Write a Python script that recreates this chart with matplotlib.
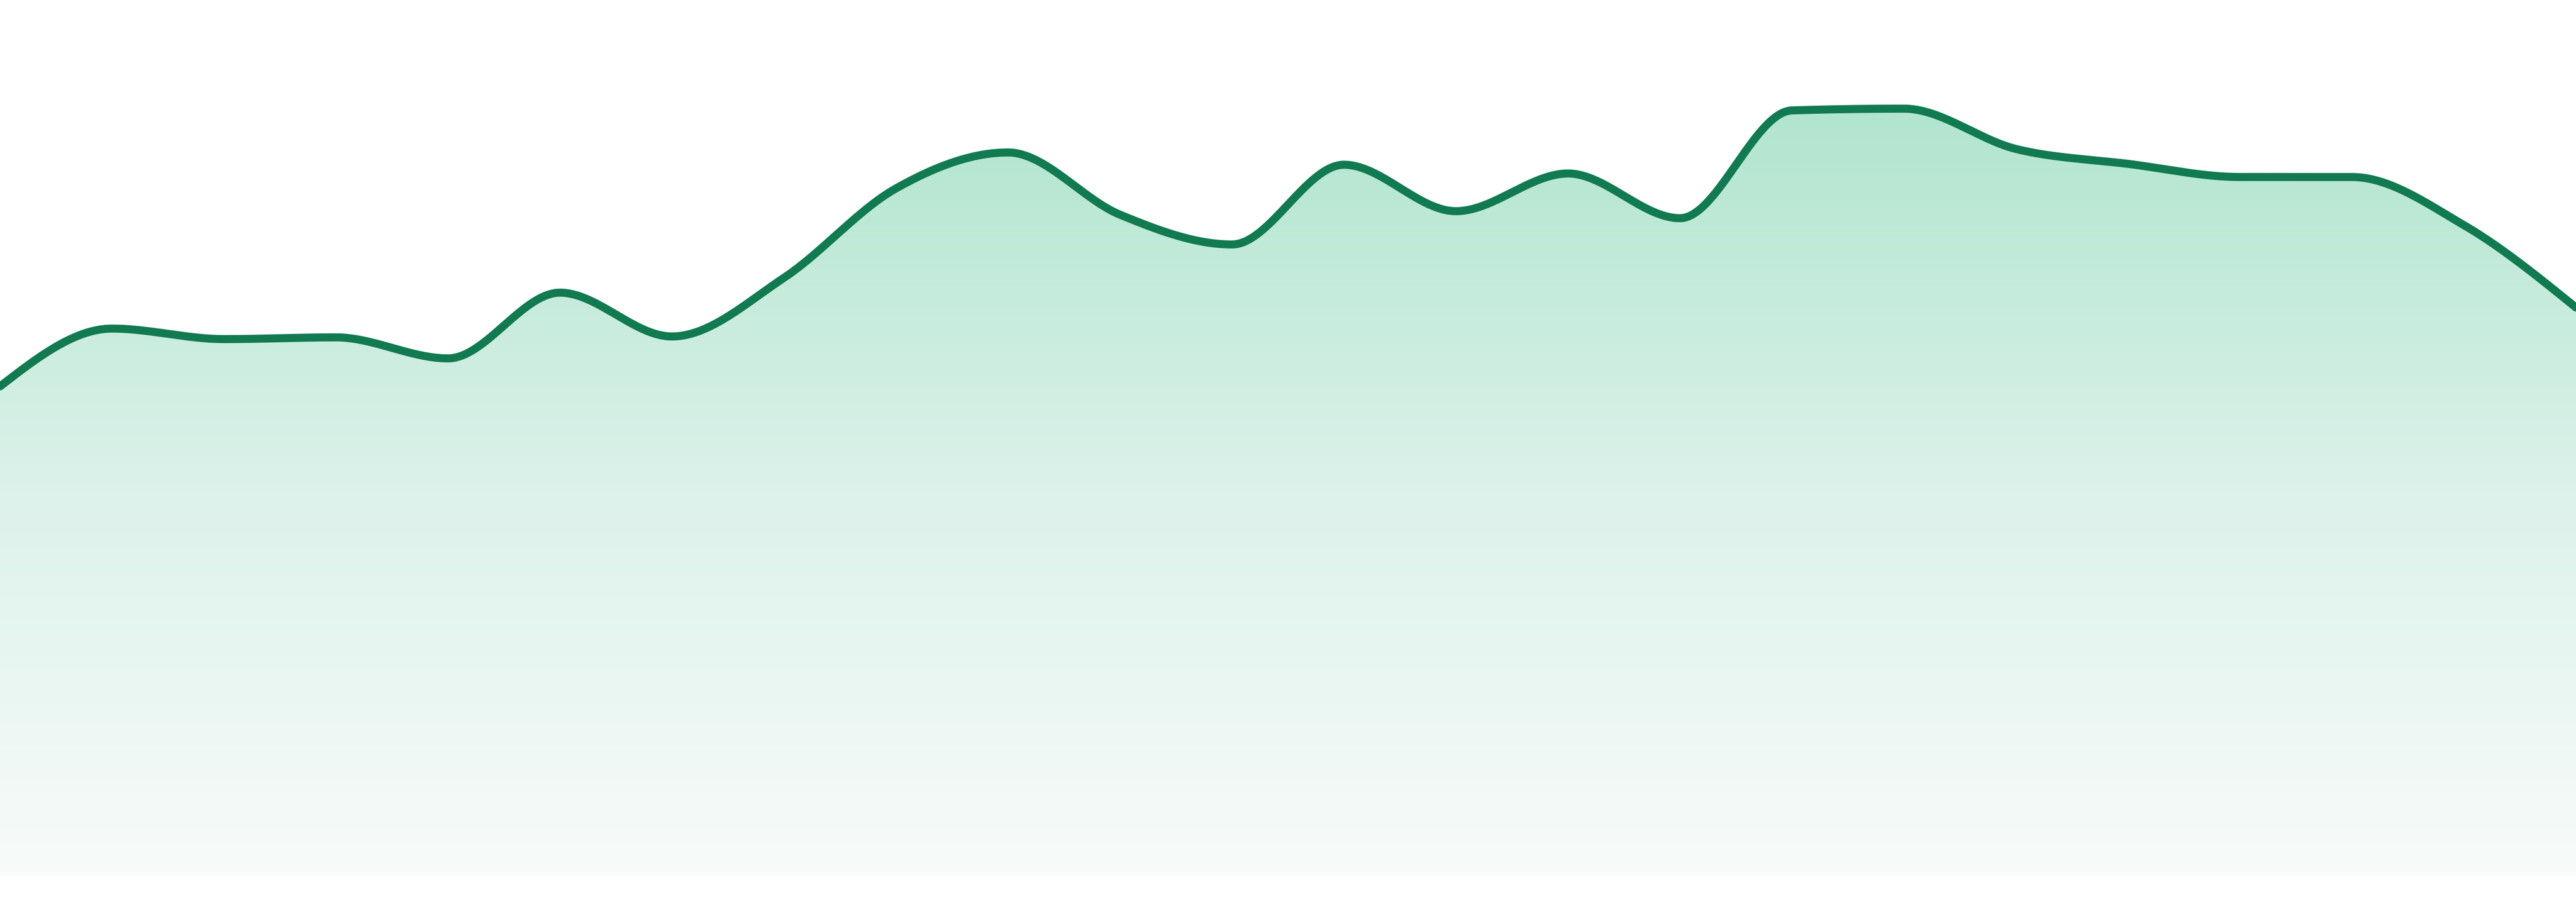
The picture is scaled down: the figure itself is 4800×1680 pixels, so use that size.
import matplotlib
matplotlib.use("Agg")
import matplotlib.pyplot as plt
import numpy as np
from matplotlib.colors import LinearSegmentedColormap

# values, one per point, evenly spaced
points = list(range(24))
values = [55.9, 62.5, 61.3, 61.5, 59.1, 66.6, 61.6, 68.3, 78.5, 82.6, 75.5, 72.1,
          81.2, 75.9, 80.2, 75.1, 87.4, 87.6, 83.0, 81.3, 79.8, 79.8, 74.3, 64.9]

line_color = "#117a50"
fill_stops = ["#f8fbfa", "#dcf2ea", "#b1e5cf"]


def monotone_x(x, y, n=60):
    # same idea as d3.curveMonotoneX
    x = np.asarray(x, float)
    y = np.asarray(y, float)
    h = np.diff(x)
    s = np.diff(y) / h
    t = np.zeros_like(y)
    for i in range(1, len(y) - 1):
        p = (s[i - 1] * h[i] + s[i] * h[i - 1]) / (h[i - 1] + h[i])
        t[i] = (np.sign(s[i - 1]) + np.sign(s[i])) * min(abs(s[i - 1]), abs(s[i]), 0.5 * abs(p))
    t[0] = (3 * s[0] - t[1]) / 2
    t[-1] = (3 * s[-1] - t[-2]) / 2
    xs, ys = [], []
    for i in range(len(h)):
        u = np.linspace(0, 1, n, endpoint=False)
        h00 = 2 * u**3 - 3 * u**2 + 1
        h10 = u**3 - 2 * u**2 + u
        h01 = -2 * u**3 + 3 * u**2
        h11 = u**3 - u**2
        xs.append(x[i] + u * h[i])
        ys.append(h00 * y[i] + h10 * h[i] * t[i] + h01 * y[i + 1] + h11 * h[i] * t[i + 1])
    xs.append([x[-1]])
    ys.append([y[-1]])
    return np.concatenate(xs), np.concatenate(ys)


xs, ys = monotone_x(points, values)

fig = plt.figure(figsize=(16, 5.6), dpi=300)
ax = fig.add_axes([0, 0, 1, 1])
ax.set_xlim(0, 23)
ax.set_ylim(-2.94, 100)
ax.axis("off")

area = ax.fill_between(xs, ys, 0, color="none", linewidth=0)
cmap = LinearSegmentedColormap.from_list("g", [(0, fill_stops[0]), (0.5, fill_stops[1]), (1, fill_stops[2])])
top = ys.max()
grad = np.linspace(0, 1, 256).reshape(-1, 1)
img = ax.imshow(grad, cmap=cmap, aspect="auto", origin="lower",
                extent=[0, 23, 0, top], interpolation="bicubic", zorder=1)
img.set_clip_path(area.get_paths()[0], transform=ax.transData)

ax.plot(xs, ys, color=line_color, linewidth=3.6, solid_capstyle="round", zorder=2)

fig.savefig("out.png", dpi=300, facecolor="white")
